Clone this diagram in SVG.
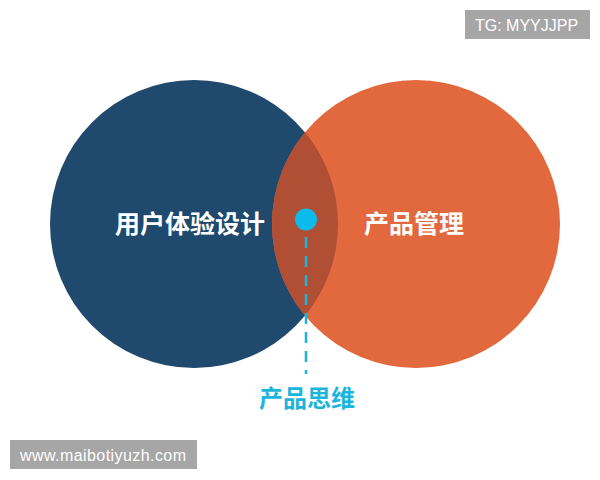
<svg xmlns="http://www.w3.org/2000/svg" width="600" height="480" viewBox="0 0 600 480">
  <style>
    .lbl { font-family: "Noto Sans CJK SC", "Noto Sans", sans-serif; font-weight: bold; font-size: 25px; fill: #ffffff; text-anchor: middle; }
    .key { font-family: "Noto Sans CJK SC", "Noto Sans", sans-serif; font-weight: bold; font-size: 24px; fill: #1ab4dc; text-anchor: middle; }
    .wm { fill: #a6a6a6; }
    .wmt { font-family: "Liberation Sans", Arial, sans-serif; font-size: 16px; fill: #ffffff; }
  </style>
  <rect width="600" height="480" fill="#ffffff"/>
  <g id="ux">
    <circle cx="194" cy="224" r="144" fill="#1f496d"/>
    <text class="lbl" x="190" y="233">用户体验设计</text>
  </g>
  <g id="pm">
    <circle cx="416" cy="224" r="144" fill="#e2683e"/>
    <text class="lbl" x="414" y="233">产品管理</text>
  </g>
  <g id="overlap">
    <path d="M305 132.3 A144 144 0 0 1 305 315.7 A144 144 0 0 1 305 132.3 Z" fill="#b14f34"/>
  </g>
  <g id="connectors">
    <line x1="306" y1="237" x2="306" y2="374" stroke="#1ab4dc" stroke-width="2.5" stroke-dasharray="11 8"/>
  </g>
  <g id="thinking">
    <circle cx="306" cy="219.5" r="11" fill="#0bbbeb"/>
    <text class="key" x="307" y="407">产品思维</text>
  </g>
  <g id="wm-top">
    <rect class="wm" x="465" y="10" width="125" height="29"/>
    <text class="wmt" x="475" y="31">TG: MYYJJPP</text>
  </g>
  <g id="wm-bottom">
    <rect class="wm" x="10" y="440" width="187" height="29"/>
    <text class="wmt" x="20" y="461" textLength="166">www.maibotiyuzh.com</text>
  </g>
</svg>
